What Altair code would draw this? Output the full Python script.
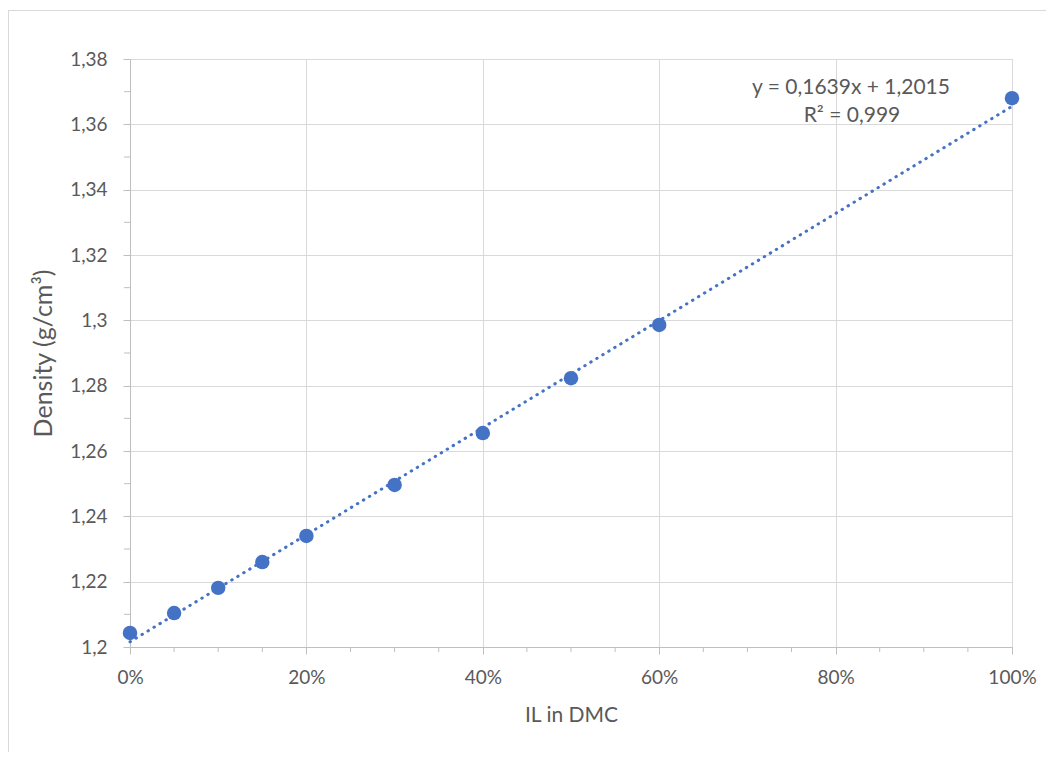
import altair as alt
import pandas as pd

# ---- data ----
il_fraction = [0.00, 0.05, 0.10, 0.15, 0.20, 0.30, 0.40, 0.50, 0.60, 1.00]
density = [1.2043, 1.2104, 1.2181, 1.2260, 1.2340, 1.2496, 1.2655, 1.2823, 1.2986, 1.3680]
x_ticks = [0.0, 0.2, 0.4, 0.6, 0.8, 1.0]
y_ticks = [1.20, 1.22, 1.24, 1.26, 1.28, 1.30, 1.32, 1.34, 1.36, 1.38]
x_minor = [0.05, 0.10, 0.15, 0.25, 0.30, 0.35, 0.45, 0.50, 0.55, 0.65, 0.70, 0.75, 0.85, 0.90, 0.95]
y_minor = [1.21, 1.23, 1.25, 1.27, 1.29, 1.31, 1.33, 1.35, 1.37]
equation_lines = ["y = 0,1639x + 1,2015", "R² = 0,999"]
x_title = "IL in DMC"
y_title = "Density (g/cm³)"

FONT = "Lato"
TEXT = "#595959"
GRID = "#d9d9d9"
AXISC = "#bfbfbf"
BLUE = "#4472C4"

df = pd.DataFrame({"x": il_fraction, "y": density})

xs = alt.Scale(domain=[0, 1], nice=False, zero=False)
ys = alt.Scale(domain=[1.2, 1.38], nice=False, zero=False)

x_axis = alt.Axis(values=x_ticks, format="%", title=x_title, grid=True, gridColor=GRID,
                  domainColor=AXISC, tickColor=AXISC, tickSize=7, labelFont=FONT,
                  labelFontSize=19, labelColor=TEXT, labelPadding=14, labelFlush=False,
                  titleFont=FONT, titleFontSize=21, titleColor=TEXT,
                  titleFontWeight="normal", titlePadding=17)
y_axis = alt.Axis(values=y_ticks, title=y_title, grid=True, gridColor=GRID,
                  labelExpr="replace(format(datum.value, '.2~f'), '.', ',')",
                  domainColor=AXISC, tickColor=AXISC, tickSize=7, labelFont=FONT,
                  labelFontSize=19, labelColor=TEXT, labelPadding=16, labelFlush=False,
                  titleFont=FONT, titleFontSize=25, titleColor=TEXT,
                  titleFontWeight="normal", titlePadding=13)

points = alt.Chart(df).mark_circle(size=210, color=BLUE, opacity=1).encode(
    x=alt.X("x:Q", scale=xs, axis=x_axis),
    y=alt.Y("y:Q", scale=ys, axis=y_axis),
)

trend = alt.Chart(df).transform_regression(
    "x", "y", method="linear", extent=[0, 1]
).mark_line(color=BLUE, strokeWidth=3, strokeDash=[0.5, 6.5], strokeCap="round").encode(
    x=alt.X("x:Q", scale=xs, axis=x_axis),
    y=alt.Y("y:Q", scale=ys, axis=y_axis),
)

xminor = alt.Chart(pd.DataFrame({"x": x_minor})).mark_rule(color=AXISC).encode(
    x=alt.X("x:Q", scale=xs, axis=x_axis), y=alt.value(588), y2=alt.value(593)
)
yminor = alt.Chart(pd.DataFrame({"y": y_minor})).mark_rule(color=AXISC).encode(
    y=alt.Y("y:Q", scale=ys, axis=y_axis), x=alt.value(-6), x2=alt.value(0)
)

eq1 = alt.Chart(pd.DataFrame({"t": [equation_lines[0]]})).mark_text(
    font=FONT, fontSize=21, color=TEXT, align="center", baseline="middle"
).encode(text="t:N", x=alt.value(721), y=alt.value(29))
eq2 = alt.Chart(pd.DataFrame({"t": [equation_lines[1]]})).mark_text(
    font=FONT, fontSize=21, color=TEXT, align="center", baseline="middle"
).encode(text="t:N", x=alt.value(722), y=alt.value(57))

dummy = pd.DataFrame({"d": [0]})
border_left = alt.Chart(dummy).mark_rule(color=GRID).encode(
    x=alt.value(-121.5), y=alt.value(-49), y2=alt.value(701)
)
border_top = alt.Chart(dummy).mark_rule(color=GRID).encode(
    x=alt.value(-122), x2=alt.value(924), y=alt.value(-48.5)
)

chart = alt.layer(
    border_left, border_top, xminor, yminor, points, trend, eq1, eq2
).properties(
    width=882, height=588,
    autosize=alt.AutoSizeParams(type="none"),
    padding={"left": 122, "top": 51, "right": 34, "bottom": 105},
).configure_view(strokeWidth=0).configure(background="white")

chart.save("out.html", embed_options={"renderer": "svg", "actions": False})
